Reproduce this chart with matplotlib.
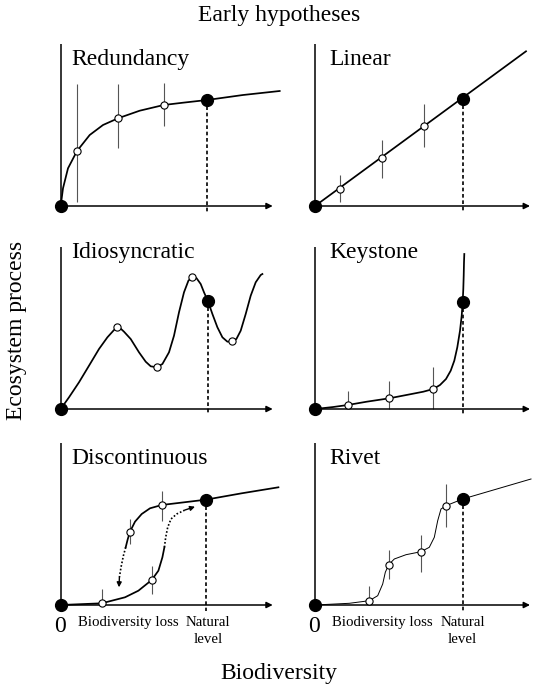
import matplotlib
matplotlib.use("Agg")
import matplotlib.pyplot as plt

# ---------------- data (offsets; x = biodiversity, y = process) -------------
TITLES = ["Redundancy", "Linear", "Idiosyncratic", "Keystone", "Discontinuous", "Rivet"]

RED_CURVE_X = [0, 2.3, 7.3, 16.3, 29, 42.3, 57.3, 79, 103, 122.3, 146.3, 182.3, 219]
RED_CURVE_Y = [0, 17.7, 37.7, 55, 71, 81, 87.7, 95.3, 101, 103.3, 106, 111, 115]
RED_PTS_X = [16.3, 57.3, 103]
RED_PTS_Y = [55, 87.7, 101]
RED_ERR_LO = [4.3, 58.3, 80]
RED_ERR_HI = [121.7, 121.7, 122.7]
RED_NATURAL = (146.3, 106)

LIN_CURVE_X = [0, 211]
LIN_CURVE_Y = [0, 154.7]
LIN_PTS_X = [25, 66.7, 109]
LIN_PTS_Y = [17.3, 48.3, 80]
LIN_ERR_LO = [4, 28, 59]
LIN_ERR_HI = [31.3, 65.7, 101.7]
LIN_NATURAL = (147.5, 106.7)

IDI_CURVE_X = [0, 8.3, 18.3, 28.3, 38.3, 46.7, 53.3, 56.7, 59, 63.3, 70, 78.3, 85, 90, 96,
               101.7, 108.3, 113.3, 118.3, 123.3, 127.7, 131.7, 135.7, 140, 143.3, 147.3,
               151.7, 156.7, 161.7, 166.7, 171.3, 175.7, 180, 185, 190, 195, 200, 201.7]
IDI_CURVE_Y = [0, 11.7, 26.7, 43.3, 60, 71.7, 79, 81.7, 81.3, 77.3, 70, 56.7, 47.3, 42.7, 41.7,
               45, 56.7, 73.3, 96.7, 116.7, 128.3, 132.3, 131, 125, 116.7, 107.7,
               95, 81.7, 71.7, 67.3, 67.7, 70, 78.3, 95, 113.3, 126.7, 134, 135]
IDI_PTS_X = [56.7, 96, 131.7, 171.3]
IDI_PTS_Y = [81.7, 41.7, 132.3, 67.7]
IDI_NATURAL = (147.3, 107.7)

KEY_CURVE_X = [0, 18.3, 32.7, 51.7, 74.3, 95, 108.3, 118.3, 125, 131, 135.7, 139.3, 142.3,
               145, 146.7, 147.7, 148.3, 148.7, 149, 149.3]
KEY_CURVE_Y = [0, 2, 4, 7.3, 10.7, 14.7, 17.3, 20, 24, 30, 38.3, 48.3, 61.7,
               78.3, 93.3, 107.3, 120, 133.3, 146.7, 155]
KEY_PTS_X = [32.7, 74.3, 118.3]
KEY_PTS_Y = [4, 10.7, 20]
KEY_ERR_LO = [0, 0, 0]
KEY_ERR_HI = [18.3, 28.3, 41.7]
KEY_NATURAL = (147.7, 107.3)

DIS_LOWER_X = [0, 41, 64.3, 77.7, 91, 97.7, 101.7, 103.7]
DIS_LOWER_Y = [0, 1.7, 7.7, 14.3, 25, 34.3, 47.7, 57.7]
DIS_UP_PATH_X = [103.7, 105, 107, 110.3, 116, 124.3, 134.3]
DIS_UP_PATH_Y = [57.7, 67.7, 77.7, 86, 91, 95, 98.3]
DIS_UPPER_X = [65, 67, 69.3, 74.3, 81, 89.3, 101, 145, 181, 217.7]
DIS_UPPER_Y = [57.7, 65.7, 73.3, 83.3, 91, 96.7, 100, 105.3, 111.7, 117.7]
DIS_DOWN_PATH_X = [65, 62.7, 60.3, 58.7, 58.3]
DIS_DOWN_PATH_Y = [57.7, 49.3, 37.7, 27.7, 17.7]
DIS_PTS_X = [41, 91, 69.3, 101]
DIS_PTS_Y = [1.7, 25, 73.3, 100]
DIS_ERR_LO = [0, 11, 61, 84.3]
DIS_ERR_HI = [16, 39.3, 86, 114.3]
DIS_NATURAL = (145, 105.3)

RIV_CURVE_X = [0, 34.3, 54.3, 62.7, 67.7, 70.3, 73.7, 79.3, 91, 106, 114.3, 119.3, 122.7,
               126, 131, 147.7, 216]
RIV_CURVE_Y = [0, 1.7, 4.3, 9.3, 21, 32.7, 40.3, 46, 50.3, 53.3, 57.7, 67.7, 84.3,
               96, 99.3, 106, 126]
RIV_PTS_X = [54.3, 73.7, 106, 131]
RIV_PTS_Y = [4.3, 40.3, 53.3, 99.3]
RIV_ERR_LO = [0, 26, 32.7, 77.7]
RIV_ERR_HI = [18.7, 55.3, 70, 121]
RIV_NATURAL = (147.7, 106)

X_LABELS = ["Biodiversity loss", "Natural\nlevel"]
X_LABEL_POS = [67.5, 147.5]

# ---------------- layout ----------------
W, H = 534, 685
DPI = 100
fig = plt.figure(figsize=(W / DPI, H / DPI), dpi=DPI)
plt.rcParams['font.family'] = ['Liberation Serif', 'DejaVu Serif']

ORIGINS = [(60.7, 206), (315, 206), (60.7, 409), (315, 409), (60.7, 605), (315, 605)]
AX_W, AX_H = 215, 162
ARROW_TIPS = [212, 215, 212, 215, 212, 215]
TITLE_DX = [10.5, 14.5, 10.5, 14.5, 10.5, 14.5]
TITLE_DY = [141, 141, 151, 151, 141, 141]

TITLE_FS = 17
CURVE_LW = 1.25
ERR_COLOR = '#555555'

axes = []
for i, (ox, oy) in enumerate(ORIGINS):
    ax = fig.add_axes([ox / W, (H - oy) / H, AX_W / W, AX_H / H])
    ax.set_xlim(0, AX_W)
    ax.set_ylim(0, AX_H)
    ax.axis('off')
    # y axis
    ax.plot([0, 0], [0, AX_H], color='black', lw=1.1, clip_on=False, solid_capstyle='butt')
    # x axis with arrow
    ax.annotate('', xy=(ARROW_TIPS[i], 0), xytext=(0, 0),
                arrowprops=dict(arrowstyle='-|>', color='black', lw=1.1,
                                mutation_scale=9, shrinkA=0, shrinkB=0),
                annotation_clip=False)
    ax.text(TITLE_DX[i], TITLE_DY[i], TITLES[i], fontsize=TITLE_FS, ha='left',
            va='baseline')
    axes.append(ax)


def open_points(ax, xs, ys, lo=None, hi=None):
    if lo is not None:
        ax.vlines(xs, lo, hi, color=ERR_COLOR, lw=0.8, zorder=2, clip_on=False)
    ax.plot(xs, ys, 'o', ms=5.2, mfc='white', mec='black', mew=0.8, zorder=5,
            clip_on=False, ls='none')


def natural(ax, pt):
    ax.plot([pt[0], pt[0]], [pt[1], -6], color='black', lw=1.2, ls=(0, (2.2, 1.6)),
            zorder=1, clip_on=False)
    ax.plot([pt[0]], [pt[1]], 'o', ms=8.5, color='black', zorder=6, clip_on=False)


def origin_dot(ax):
    ax.plot([0], [0], 'o', ms=8.5, color='black', zorder=6, clip_on=False)


# Redundancy
ax = axes[0]
ax.plot(RED_CURVE_X, RED_CURVE_Y, color='black', lw=CURVE_LW, zorder=3, clip_on=False)
open_points(ax, RED_PTS_X, RED_PTS_Y, RED_ERR_LO, RED_ERR_HI)
natural(ax, RED_NATURAL)
origin_dot(ax)

# Linear
ax = axes[1]
ax.plot(LIN_CURVE_X, LIN_CURVE_Y, color='black', lw=CURVE_LW, zorder=3, clip_on=False)
open_points(ax, LIN_PTS_X, LIN_PTS_Y, LIN_ERR_LO, LIN_ERR_HI)
natural(ax, LIN_NATURAL)
origin_dot(ax)

# Idiosyncratic
ax = axes[2]
ax.plot(IDI_CURVE_X, IDI_CURVE_Y, color='black', lw=CURVE_LW, zorder=3, clip_on=False)
open_points(ax, IDI_PTS_X, IDI_PTS_Y)
natural(ax, IDI_NATURAL)
origin_dot(ax)

# Keystone
ax = axes[3]
ax.plot(KEY_CURVE_X, KEY_CURVE_Y, color='black', lw=CURVE_LW, zorder=3, clip_on=False)
open_points(ax, KEY_PTS_X, KEY_PTS_Y, KEY_ERR_LO, KEY_ERR_HI)
natural(ax, KEY_NATURAL)
origin_dot(ax)

# Discontinuous
ax = axes[4]
ax.plot(DIS_LOWER_X, DIS_LOWER_Y, color='black', lw=CURVE_LW, zorder=3, clip_on=False)
ax.plot(DIS_UPPER_X, DIS_UPPER_Y, color='black', lw=CURVE_LW, zorder=3, clip_on=False)
for px, py in [(DIS_UP_PATH_X, DIS_UP_PATH_Y), (DIS_DOWN_PATH_X, DIS_DOWN_PATH_Y)]:
    ax.plot(px[:-1], py[:-1], color='black', lw=1.2, ls=(0, (1, 1.2)), zorder=3,
            clip_on=False)
    ax.annotate('', xy=(px[-1], py[-1]), xytext=(px[-2], py[-2]),
                arrowprops=dict(arrowstyle='-|>', color='black', lw=1.0,
                                mutation_scale=7, shrinkA=0, shrinkB=0),
                annotation_clip=False)
open_points(ax, DIS_PTS_X, DIS_PTS_Y, DIS_ERR_LO, DIS_ERR_HI)
natural(ax, DIS_NATURAL)
origin_dot(ax)

# Rivet
ax = axes[5]
ax.plot(RIV_CURVE_X, RIV_CURVE_Y, color='black', lw=0.7, zorder=3, clip_on=False)
open_points(ax, RIV_PTS_X, RIV_PTS_Y, RIV_ERR_LO, RIV_ERR_HI)
natural(ax, RIV_NATURAL)
origin_dot(ax)

# bottom-row x labels
for ax in axes[4:]:
    ax.text(-1, -21.5, "0", fontsize=TITLE_FS, ha='center', va='center')
    ax.text(X_LABEL_POS[0], -17.5, X_LABELS[0], fontsize=10.7, ha='center', va='center')
    ax.text(X_LABEL_POS[1], -26, X_LABELS[1], fontsize=10.7, ha='center', va='center',
            linespacing=1.35)

# figure-level labels
fig.text(279 / W, 1 - 15 / H, "Early hypotheses", fontsize=TITLE_FS, ha='center',
         va='center')
fig.text(279 / W, 1 - 674 / H, "Biodiversity", fontsize=TITLE_FS, ha='center',
         va='center')
fig.text(17 / W, 1 - 330 / H, "Ecosystem process", fontsize=TITLE_FS, ha='center',
         va='center', rotation=90)

fig.savefig("out.png", dpi=DPI, facecolor='white')
